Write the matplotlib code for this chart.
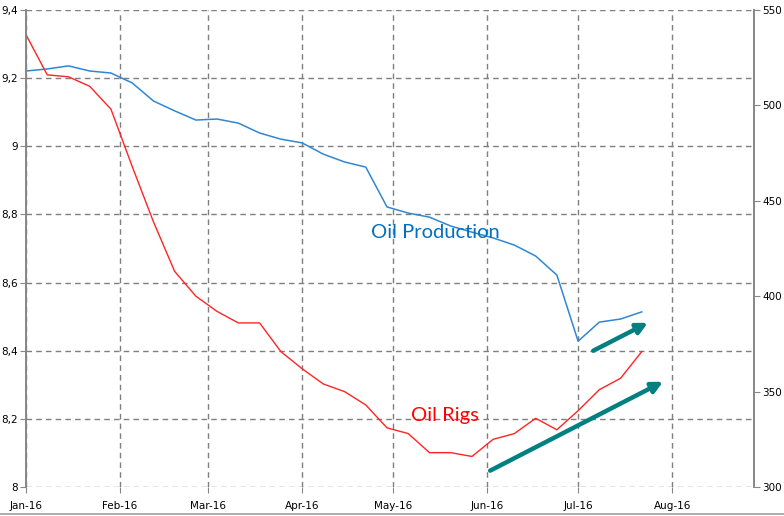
import matplotlib
matplotlib.use('Agg')
import matplotlib.pyplot as plt
import matplotlib.dates as mdates
import matplotlib.ticker as mticker
import pandas as pd

# weekly readings, Fridays from 1 Jan 2016
weeks = pd.date_range('2016-01-01', periods=30, freq='7D')

# oil production (left axis)
production = [9.221, 9.227, 9.236, 9.221, 9.215, 9.186, 9.133, 9.104, 9.077, 9.080,
              9.068, 9.039, 9.021, 9.010, 8.977, 8.954, 8.939, 8.822, 8.804, 8.792,
              8.766, 8.748, 8.731, 8.710, 8.678, 8.622, 8.428, 8.484, 8.493, 8.514]

# oil rigs (right axis)
rigs = [537, 516, 515, 510, 498, 468, 439, 413, 400, 392,
        386, 386, 371, 362, 354, 350, 343, 331, 328, 318,
        318, 316, 325, 328, 336, 330, 340, 351, 357, 371]

left_ticks = [8, 8.2, 8.4, 8.6, 8.8, 9, 9.2, 9.4]
right_ticks = [300, 350, 400, 450, 500, 550]
month_ticks = pd.date_range('2016-01-01', '2016-08-01', freq='MS')

# trend arrows: (start date, start value), (end date, end value) on left axis
arrow_rigs = (('2016-06-02', 8.048), ('2016-07-29', 8.309))
arrow_prod = (('2016-07-06', 8.400), ('2016-07-24', 8.482))

grey = '#868686'
teal = '#008080'

fig = plt.figure(figsize=(7.84, 5.16), dpi=100)
ax = fig.add_axes([0.0332, 0.0562, 0.9286, 0.9244])
ax2 = ax.twinx()

ax.plot(weeks, production, color='#2F87D3', lw=1.1)
ax2.plot(weeks, rigs, color='#FF2424', lw=1.0)

ax.set_xlim(pd.Timestamp('2016-01-01'), pd.Timestamp('2016-08-28'))
ax.set_ylim(8, 9.4)
ax2.set_ylim(300, 550)

ax.set_yticks(left_ticks)
ax.yaxis.set_major_formatter(mticker.FuncFormatter(
    lambda v, p: ('%g' % round(v, 1)).replace('.', ',')))
ax2.set_yticks(right_ticks)
ax.set_xticks(month_ticks)
ax.xaxis.set_major_formatter(mdates.DateFormatter('%b-%y'))

ax.grid(True, color='#7f7f7f', ls=(0, (4, 3)), lw=1.0)
ax.set_axisbelow(True)

for a in (ax, ax2):
    a.spines['top'].set_visible(False)
    a.spines['bottom'].set_visible(False)
    a.spines['left'].set_color(grey)
    a.spines['right'].set_color(grey)
    a.spines['left'].set_linewidth(1.2)
    a.spines['right'].set_linewidth(1.2)
    a.tick_params(length=4, color=grey, labelsize=7.5, pad=2)
ax.tick_params(axis='x', pad=6)
ax2.tick_params(axis='y', pad=2)

ax.text(pd.Timestamp('2016-05-15'), 8.748, 'Oil Production', color='#0070C0',
        fontsize=14.5, family='Lato', ha='center', va='center')
ax.text(pd.Timestamp('2016-05-18'), 8.211, 'Oil Rigs', color='#FF0000',
        fontsize=14.5, family='Lato', ha='center', va='center')

for (d0, v0), (d1, v1) in (arrow_rigs, arrow_prod):
    ax.annotate('', xy=(pd.Timestamp(d1), v1), xytext=(pd.Timestamp(d0), v0),
                arrowprops=dict(arrowstyle='-|>', color=teal, lw=3.2,
                                mutation_scale=16, shrinkA=0, shrinkB=0))

fig.add_artist(plt.Line2D([0, 1], [0.004, 0.004], color='#a0a0a0', lw=1.2,
                          transform=fig.transFigure))

fig.savefig('out.png', dpi=100)
